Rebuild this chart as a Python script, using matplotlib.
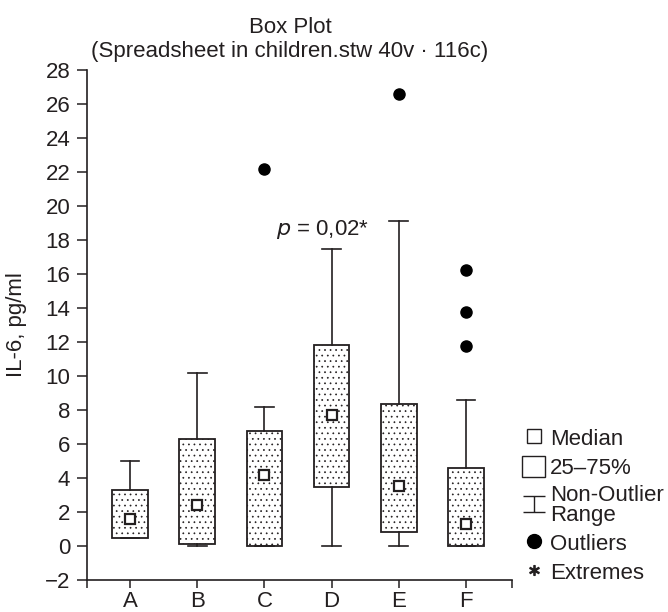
import numpy as np
import matplotlib
matplotlib.use("Agg")
import matplotlib.pyplot as plt
from matplotlib.lines import Line2D
from matplotlib.patches import Patch
from matplotlib.path import Path

plt.rcParams['font.family'] = ['Liberation Sans', 'DejaVu Sans']
plt.rcParams['hatch.linewidth'] = 0.5

# Dane
groups = ["A", "B", "C", "D", "E", "F"]
q1 = [0.45, 0.1, 0.0, 3.5, 0.85, 0.0]
q3 = [3.32, 6.3, 6.78, 11.8, 8.38, 4.6]
medians = [1.6, 2.43, 4.17, 7.73, 3.52, 1.28]
whis_lo = [0.45, 0.0, 0.0, 0.0, 0.0, 0.0]
whis_hi = [5.0, 10.2, 8.16, 17.5, 19.1, 8.57]
outliers = [[], [], [22.17], [], [26.56], [16.25, 13.75, 11.78]]

ink = "#231f20"
fs = 16

fig = plt.figure(figsize=(6.68, 6.12), dpi=100)
ax = fig.add_axes([87 / 668, 32 / 612, 425 / 668, 510 / 612])

pos = np.arange(1, len(groups) + 1)
stats = []
for i, g in enumerate(groups):
    stats.append(dict(label=g, q1=q1[i], q3=q3[i], med=medians[i],
                      whislo=whis_lo[i], whishi=whis_hi[i],
                      fliers=outliers[i]))

bp = ax.bxp(stats, positions=pos, widths=0.53, patch_artist=True,
            showfliers=True,
            boxprops=dict(facecolor="white", edgecolor=ink, linewidth=1.3,
                          hatch="..."),
            whiskerprops=dict(color=ink, linewidth=1.2),
            capprops=dict(color=ink, linewidth=1.2),
            capwidths=0.28,
            medianprops=dict(linestyle="none"),
            flierprops=dict(marker="o", markersize=8,
                            markerfacecolor="black", markeredgecolor="black"))
for b in bp["boxes"]:
    b.set_zorder(2)

ax.plot(pos, medians, linestyle="none", marker="s", markersize=6.5,
        markerfacecolor="white", markeredgecolor=ink, markeredgewidth=1.6,
        zorder=4)

ax.text(3.87, 18.6, r"$\it{p}$ = 0,02*", ha="center", va="center",
        fontsize=fs, color=ink)

ax.set_ylim(-2, 28)
ax.set_xlim(0.36, 6.685)
ax.set_yticks(np.arange(-2, 29, 2))
ax.set_xticks(pos)
ax.set_xticklabels(groups)
ax.set_xticks([0.36, 6.685], minor=True)
ax.tick_params(which="both", direction="out", width=1.1,
               labelsize=fs, colors=ink, labelcolor=ink)
ax.tick_params(axis="x", which="both", length=6, pad=2)
ax.tick_params(axis="y", length=7, pad=5)
for s in ["top", "right"]:
    ax.spines[s].set_visible(False)
for s in ["left", "bottom"]:
    ax.spines[s].set_linewidth(1.2)
    ax.spines[s].set_color(ink)

ax.set_ylabel("IL-6, pg/ml", fontsize=fs, color=ink)
ax.yaxis.set_label_coords(-0.14, 0.5)

fig.text(290 / 668, 1 - 33 / 612, "Box Plot",
         ha="center", va="baseline", fontsize=fs, color=ink)
fig.text(290 / 668, 1 - 57 / 612, "(Spreadsheet in children.stw 40v \u00b7 116c)",
         ha="center", va="baseline", fontsize=fs, color=ink)

# Legenda
whisker_marker = Path([(-1, 0.75), (1, 0.75), (0, 0.75), (0, -0.75),
                       (-1, -0.75), (1, -0.75)],
                      [Path.MOVETO, Path.LINETO, Path.MOVETO, Path.LINETO,
                       Path.MOVETO, Path.LINETO])
handles = [
    Line2D([], [], linestyle="none", marker="s", markersize=10,
           markerfacecolor="white", markeredgecolor=ink, markeredgewidth=1.0),
    Patch(facecolor="white", edgecolor=ink, linewidth=1.0),
    Line2D([], [], linestyle="none", marker=whisker_marker, markersize=16,
           markeredgecolor=ink, markeredgewidth=1.0),
    Line2D([], [], linestyle="none", marker="o", markersize=10,
           markerfacecolor="black", markeredgecolor="black"),
    Line2D([], [], linestyle="none", marker="$*$", markersize=7,
           color=ink),
]
labels = ["Median", "25\u201375%", "Non-Outlier\nRange", "Outliers", "Extremes"]
leg = fig.legend(handles, labels, loc="upper left",
                 bbox_to_anchor=(522 / 668, 1 - 427 / 612), frameon=False,
                 fontsize=fs, handlelength=1.05, handleheight=1.05,
                 handletextpad=0.22, labelspacing=0.27, borderaxespad=0,
                 borderpad=0, labelcolor=ink)
for t in leg.get_texts():
    t.set_linespacing(0.95)

fig.savefig("out.png", dpi=100)
